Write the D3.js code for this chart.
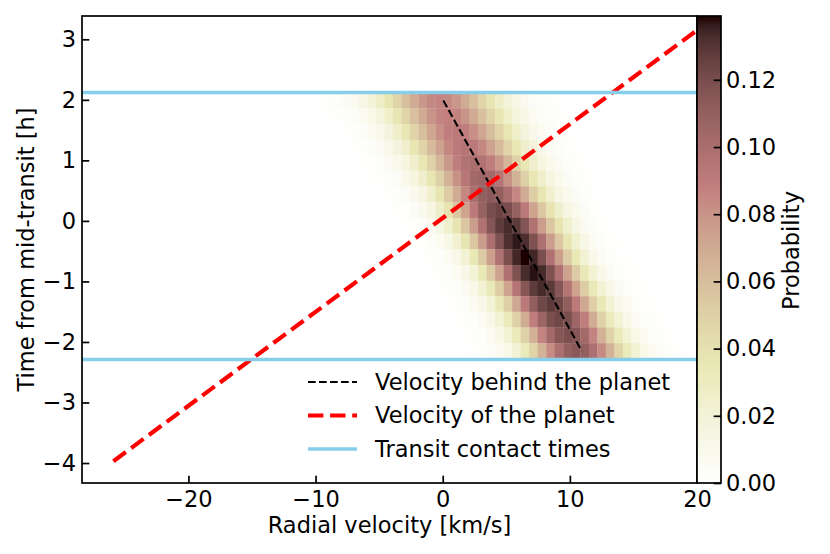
<!DOCTYPE html>
<html lang="en">
<head>
  <meta charset="UTF-8">
  <title>Velocity behind the planet</title>
  <style>
    body {
      margin: 0;
      background: #fff;
    }
    svg {
      display: block;
    }
    text {
      font-family: "DejaVu Sans", sans-serif;
      font-size: 22.5px;
      fill: #000;
    }
  </style>
</head>
<body>
<div id="chart"></div>
<script src="https://d3js.org/d3.v7.min.js"></script>
<script type="text/javascript">

  // ---- data ----

  // centre time of each exposure row [h]
  var timeCenters = [1.99, 1.73, 1.47, 1.21, 0.96, 0.70, 0.44, 0.18, -0.08,
    -0.34, -0.60, -0.86, -1.12, -1.37, -1.63, -1.89, -2.15];

  // velocity bins: left edge of bin 0 and bin width [km/s]
  var velBinEdge0 = -13.3;
  var velBinWidth = 0.67;

  // first velocity bin of every row, then the probabilities (in units of 0.001)
  var rowFirstBin = [5, 6, 8, 9, 10, 11, 13, 14, 15, 16, 17, 18, 19, 20, 21, 22, 23];
  var rowProb = [
    [1, 2, 3, 5, 8, 13, 19, 27, 37, 48, 59, 69, 78, 84, 86, 84, 78, 69, 59, 48, 37, 27, 19, 13, 8, 5, 3, 2, 1],
    [1, 1, 3, 4, 7, 12, 18, 26, 36, 47, 59, 70, 80, 86, 88, 86, 80, 70, 59, 47, 36, 26, 18, 12, 7, 4, 3, 1, 1],
    [1, 2, 4, 7, 11, 17, 26, 36, 48, 60, 72, 82, 89, 91, 89, 82, 72, 60, 48, 36, 26, 17, 11, 7, 4, 2, 1],
    [1, 2, 4, 6, 11, 17, 25, 36, 48, 62, 74, 85, 92, 95, 92, 85, 74, 62, 48, 36, 25, 17, 11, 6, 4, 2, 1],
    [1, 2, 3, 6, 10, 16, 25, 36, 49, 64, 78, 89, 97, 100, 97, 89, 78, 64, 49, 36, 25, 16, 10, 6, 3, 2, 1],
    [1, 1, 3, 5, 10, 16, 25, 36, 50, 66, 81, 94, 103, 106, 103, 94, 81, 66, 50, 36, 25, 16, 10, 5, 3, 1, 1],
    [1, 3, 5, 9, 15, 24, 37, 52, 69, 85, 100, 110, 113, 110, 100, 85, 69, 52, 37, 24, 15, 9, 5, 3, 1],
    [1, 2, 5, 9, 15, 25, 38, 55, 73, 92, 109, 120, 124, 120, 109, 92, 73, 55, 38, 25, 15, 9, 5, 2, 1],
    [1, 2, 4, 8, 14, 24, 38, 56, 76, 97, 116, 128, 133, 128, 116, 97, 76, 56, 38, 24, 14, 8, 4, 2, 1],
    [1, 2, 4, 7, 13, 23, 37, 55, 76, 99, 118, 132, 137, 132, 118, 99, 76, 55, 37, 23, 13, 7, 4, 2, 1],
    [1, 1, 3, 6, 12, 21, 35, 53, 75, 98, 119, 134, 139, 134, 119, 98, 75, 53, 35, 21, 12, 6, 3, 1, 1],
    [1, 1, 3, 6, 12, 21, 34, 53, 74, 98, 118, 133, 138, 133, 118, 98, 74, 53, 34, 21, 12, 6, 3, 1, 1],
    [1, 1, 3, 6, 12, 21, 34, 52, 73, 95, 115, 128, 133, 128, 115, 95, 73, 52, 34, 21, 12, 6, 3, 1, 1],
    [1, 2, 3, 7, 12, 21, 34, 51, 71, 92, 111, 123, 128, 123, 111, 92, 71, 51, 34, 21, 12, 7, 3, 2, 1],
    [1, 1, 3, 6, 12, 21, 33, 49, 69, 89, 106, 119, 123, 119, 106, 89, 69, 49, 33, 21, 12, 6, 3, 1, 1],
    [1, 2, 3, 7, 12, 21, 33, 49, 67, 86, 103, 115, 119, 115, 103, 86, 67, 49, 33, 21, 12, 7, 3, 2, 1],
    [1, 2, 4, 7, 12, 21, 33, 48, 66, 83, 99, 110, 114, 110, 99, 83, 66, 48, 33, 21, 12, 7, 4, 2, 1]
  ];
  var probUnit = 0.001;
  var probMax = 0.139;

  // velocity behind the planet (black dashed)
  var behindV = [0.05, 10.94];
  var behindT = [1.99, -2.15];

  // velocity of the planet (red dashed)
  var planetV = [-25.9, 20.0];
  var planetT = [-3.97, 3.15];

  // transit contact times [h]
  var contactTimes = [2.12, -2.29];

  // ticks
  var xTicks = [-20, -10, 0, 10, 20];
  var yTicks = [-4, -3, -2, -1, 0, 1, 2, 3];
  var cTicks = [0, 0.02, 0.04, 0.06, 0.08, 0.10, 0.12];

  var legendLabels = ["Velocity behind the planet", "Velocity of the planet", "Transit contact times"];

  // ---- layout ----
  var w = 830;
  var h = 554;
  var margin = {top: 16, right: 133, bottom: 71, left: 82};
  var innerWidth = w - margin.left - margin.right;
  var innerHeight = h - margin.top - margin.bottom;
  var cbWidth = 24;

  var svg = d3.select("#chart")
          .append("svg")
          .attr("width", w)
          .attr("height", h);

  var defs = svg.append("defs");

  defs.append("clipPath")
          .attr("id", "clip")
          .append("rect")
          .attr("width", innerWidth)
          .attr("height", innerHeight);

  svg.append("rect")
          .attr("width", w)
          .attr("height", h)
          .attr("fill", "#fff");

  var xScale = d3.scaleLinear()
          .domain([-28.37, 20])
          .range([0, innerWidth]);

  var yScale = d3.scaleLinear()
          .domain([-4.33, 3.385])
          .range([innerHeight, 0]);

  var cScale = d3.scaleLinear()
          .domain([0, probMax])
          .range([innerHeight, 0]);

  // matplotlib "pink" reversed
  function pinkR(p) {
    var t = 1 - Math.max(0, Math.min(p / probMax, 1));
    var hr = t < 0.365079 ? 0.0416 + 0.9584 * t / 0.365079 : 1;
    var hg = t < 0.365079 ? 0 : (t < 0.746032 ? (t - 0.365079) / 0.380953 : 1);
    var hb = t < 0.746032 ? 0 : (t - 0.746032) / 0.253968;
    var f = function(c) { return Math.round(255 * Math.sqrt((2 * t + c) / 3)); };
    return d3.rgb(f(hr), f(hg), f(hb)).toString();
  }

  // build heatmap cells
  var cells = [];
  var nRows = timeCenters.length;
  timeCenters.forEach(function(tc, i) {
    var tTop = i === 0 ? tc + (tc - timeCenters[1]) / 2 : (timeCenters[i - 1] + tc) / 2;
    var tBot = i === nRows - 1 ? tc - (timeCenters[nRows - 2] - tc) / 2 : (tc + timeCenters[i + 1]) / 2;
    rowProb[i].forEach(function(p, j) {
      var v0 = velBinEdge0 + (rowFirstBin[i] + j) * velBinWidth;
      cells.push({t0: tTop, t1: tBot, v0: v0, v1: v0 + velBinWidth, p: p * probUnit});
    });
  });

  // marks inside the axes, clipped
  var layer = svg.append("g")
          .attr("transform", `translate(${margin.left}, ${margin.top})`)
          .attr("clip-path", "url(#clip)");

  layer.selectAll("rect.cell")
          .data(cells)
          .enter()
          .append("rect")
          .attr("class", "cell")
          .attr("x", d => xScale(d.v0))
          .attr("y", d => yScale(d.t0))
          .attr("width", d => xScale(d.v1) - xScale(d.v0) + 0.3)
          .attr("height", d => yScale(d.t1) - yScale(d.t0) + 0.3)
          .attr("fill", d => pinkR(d.p));

  var line = d3.line()
          .x(d => xScale(d[0]))
          .y(d => yScale(d[1]));

  // black dashed
  layer.append("path")
          .datum(d3.zip(behindV, behindT))
          .attr("d", line)
          .attr("fill", "none")
          .attr("stroke", "#000")
          .attr("stroke-width", 2.1)
          .attr("stroke-dasharray", "7.7,3.3");

  // red dashed
  layer.append("path")
          .datum(d3.zip(planetV, planetT))
          .attr("d", line)
          .attr("fill", "none")
          .attr("stroke", "red")
          .attr("stroke-width", 4.2)
          .attr("stroke-dasharray", "15.4,6.7");

  // contact times
  layer.selectAll("line.contact")
          .data(contactTimes)
          .enter()
          .append("line")
          .attr("class", "contact")
          .attr("x1", 0)
          .attr("x2", innerWidth)
          .attr("y1", d => yScale(d))
          .attr("y2", d => yScale(d))
          .attr("stroke", "skyblue")
          .attr("stroke-width", 3.5);

  // axes, labels and legend
  var plot = svg.append("g")
          .attr("id", "plot")
          .attr("transform", `translate(${margin.left}, ${margin.top})`);

  var xAxis = d3.axisBottom(xScale)
          .tickValues(xTicks)
          .tickSizeInner(-7.3)
          .tickSizeOuter(0)
          .tickPadding(8);

  var yAxis = d3.axisLeft(yScale)
          .tickValues(yTicks)
          .tickSizeInner(-7.3)
          .tickSizeOuter(0)
          .tickPadding(6);

  var gx = plot.append("g")
          .attr("transform", `translate(0, ${innerHeight})`)
          .call(xAxis);
  var gy = plot.append("g")
          .call(yAxis);

  function styleAxis(g) {
    g.attr("font-size", null).attr("font-family", null);
    g.select(".domain").remove();
    g.selectAll(".tick line").attr("stroke", "#000").attr("stroke-width", 1.7);
  }
  styleAxis(gx);
  styleAxis(gy);

  plot.append("rect")
          .attr("width", innerWidth)
          .attr("height", innerHeight)
          .attr("fill", "none")
          .attr("stroke", "#000")
          .attr("stroke-width", 1.7);

  plot.append("text")
          .attr("x", innerWidth / 2)
          .attr("y", innerHeight + 50)
          .attr("text-anchor", "middle")
          .text("Radial velocity [km/s]");

  plot.append("text")
          .attr("transform", `translate(${26 - margin.left}, ${innerHeight / 2}) rotate(-90)`)
          .attr("text-anchor", "middle")
          .attr("dy", "0.35em")
          .text("Time from mid-transit [h]");

  var legend = plot.append("g")
          .attr("transform", `translate(${308 - margin.left}, ${382 - margin.top})`);

  var handles = [
    {color: "#000", width: 2.1, dash: "7.7,3.3"},
    {color: "red", width: 4.2, dash: "15.4,6.7"},
    {color: "skyblue", width: 3.5, dash: null}
  ];

  legendLabels.forEach(function(label, i) {
    var row = legend.append("g").attr("transform", `translate(0, ${i * 33.5})`);
    row.append("line")
            .attr("x1", 0)
            .attr("x2", 49)
            .attr("stroke", handles[i].color)
            .attr("stroke-width", handles[i].width)
            .attr("stroke-dasharray", handles[i].dash);
    row.append("text")
            .attr("x", 67)
            .attr("dy", "0.35em")
            .text(label);
  });

  // colorbar
  var grad = defs.append("linearGradient")
          .attr("id", "cbgrad")
          .attr("x1", 0).attr("y1", 1)
          .attr("x2", 0).attr("y2", 0);
  d3.range(0, 41).forEach(function(k) {
    grad.append("stop")
            .attr("offset", k / 40)
            .attr("stop-color", pinkR(probMax * k / 40));
  });

  var cb = svg.append("g")
          .attr("transform", `translate(${margin.left + innerWidth}, ${margin.top})`);

  cb.append("rect")
          .attr("width", cbWidth)
          .attr("height", innerHeight)
          .attr("fill", "url(#cbgrad)");

  var cAxis = d3.axisRight(cScale)
          .tickValues(cTicks)
          .tickFormat(d3.format(".2f"))
          .tickSizeInner(-7.3)
          .tickSizeOuter(0)
          .tickPadding(5);

  var gc = cb.append("g")
          .attr("transform", `translate(${cbWidth}, 0)`)
          .call(cAxis);
  styleAxis(gc);

  cb.append("rect")
          .attr("width", cbWidth)
          .attr("height", innerHeight)
          .attr("fill", "none")
          .attr("stroke", "#000")
          .attr("stroke-width", 1.7);

  cb.append("text")
          .attr("transform", `translate(${791 - margin.left - innerWidth}, ${innerHeight / 2 + 1}) rotate(-90)`)
          .attr("text-anchor", "middle")
          .attr("dy", "0.35em")
          .text("Probability");

</script>
</body>
</html>
